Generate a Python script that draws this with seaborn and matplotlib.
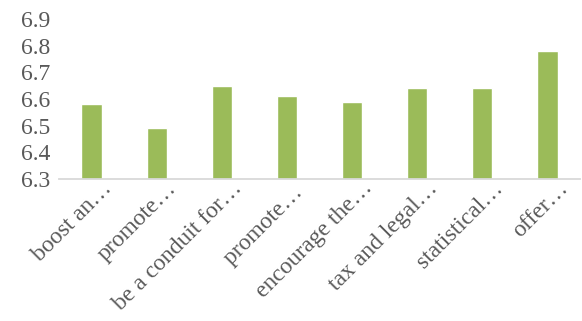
import matplotlib
matplotlib.use("Agg")
import matplotlib.pyplot as plt
import matplotlib.transforms as mtransforms
import seaborn as sns
import pandas as pd

categories = [
    "boost an\u2026",
    "promote\u2026",
    "be a conduit for\u2026",
    "promote\u2026 ",
    "encourage the\u2026",
    "tax and legal\u2026",
    "statistical\u2026",
    "offer\u2026",
]
values = [6.58, 6.49, 6.65, 6.61, 6.59, 6.64, 6.64, 6.78]
y_ticks = [6.3, 6.4, 6.5, 6.6, 6.7, 6.8, 6.9]

sns.set_theme(style="white")
plt.rcParams["font.family"] = ["Liberation Serif", "DejaVu Serif"]

df = pd.DataFrame({"item": categories, "score": values})

fig = plt.figure(figsize=(5.82, 3.21), dpi=100)
ax = fig.add_axes([0.1014, 0.4424, 0.8952, 0.4984])

sns.barplot(data=df, x="item", y="score", color="#9BBB59", saturation=1,
            width=0.31, ax=ax, order=categories)

ax.set_ylim(6.3, 6.9)
ax.set_yticks(y_ticks)
ax.set_yticklabels([f"{t:.1f}" for t in y_ticks])
ax.set_xlabel("")
ax.set_ylabel("")
ax.set_xlim(-0.5, len(categories) - 0.5)

for side in ["top", "right", "left"]:
    ax.spines[side].set_visible(False)
ax.spines["bottom"].set_color("#d9d9d9")
ax.spines["bottom"].set_linewidth(1.3)

ax.tick_params(axis="y", length=0, labelsize=17, colors="#595959", pad=6)
ax.tick_params(axis="x", length=0, labelsize=17, colors="#595959", pad=0)

# rotated labels end just right of their bar, slightly below the axis
shift = mtransforms.ScaledTranslation(21 / 100, -10 / 100, fig.dpi_scale_trans)
for lbl in ax.get_xticklabels():
    lbl.set_rotation(45)
    lbl.set_ha("right")
    lbl.set_va("baseline")
    lbl.set_rotation_mode("anchor")
    lbl.set_transform(lbl.get_transform() + shift)

fig.savefig("out.png", dpi=100)
